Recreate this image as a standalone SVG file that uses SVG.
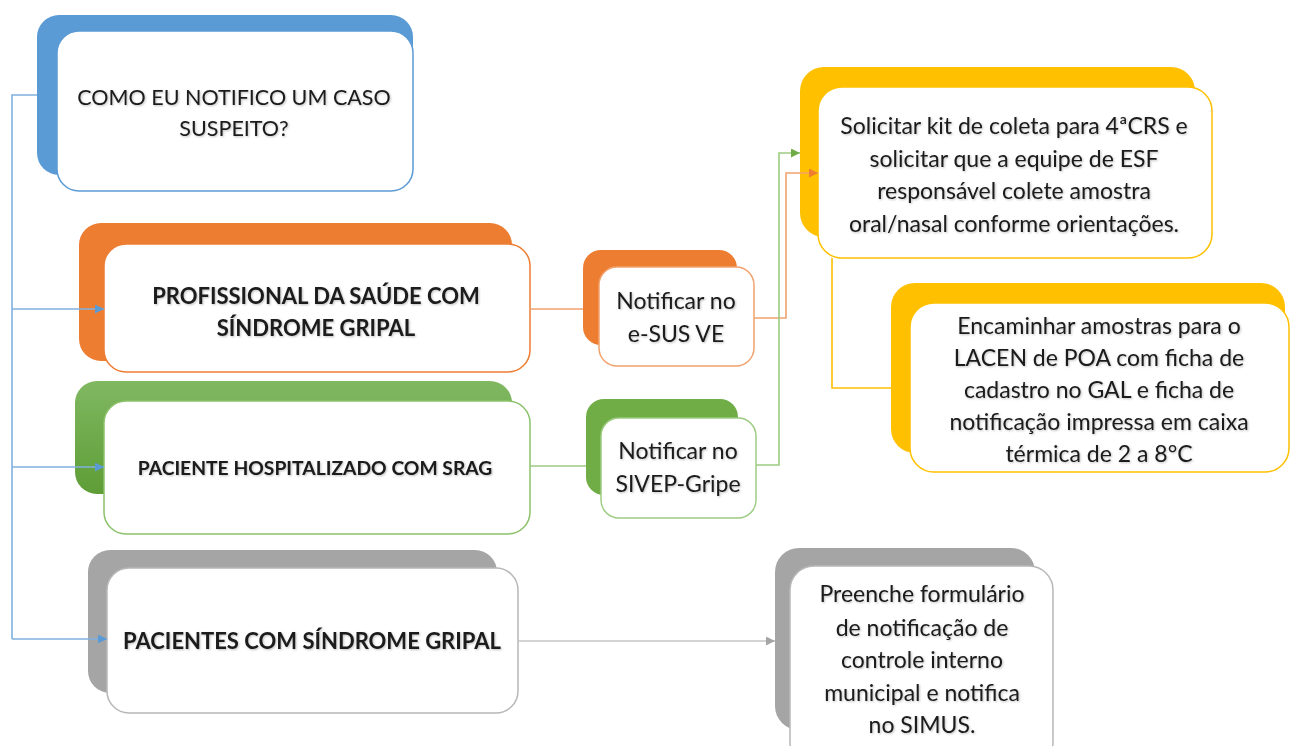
<svg xmlns="http://www.w3.org/2000/svg" width="1293" height="746" viewBox="0 0 1293 746">
<defs>
<linearGradient id="gGreen" x1="0" y1="0" x2="0" y2="1"><stop offset="0" stop-color="#80B862"/><stop offset="1" stop-color="#5E9D36"/></linearGradient>
<filter id="ts" x="-5%" y="-20%" width="110%" height="140%"><feDropShadow dx="1" dy="1" stdDeviation="0.8" flood-color="#000" flood-opacity="0.25"/></filter>
<marker id="aBlue" viewBox="0 0 10 10" refX="10" refY="5" markerWidth="9" markerHeight="9" markerUnits="userSpaceOnUse" orient="auto"><path d="M0,0 L10,5 L0,10 z" fill="#5B9BD5"/></marker>
<marker id="aOrange" viewBox="0 0 10 10" refX="10" refY="5" markerWidth="9" markerHeight="9" markerUnits="userSpaceOnUse" orient="auto"><path d="M0,0 L10,5 L0,10 z" fill="#ED7D31"/></marker>
<marker id="aGreen" viewBox="0 0 10 10" refX="10" refY="5" markerWidth="9" markerHeight="9" markerUnits="userSpaceOnUse" orient="auto"><path d="M0,0 L10,5 L0,10 z" fill="#70AD47"/></marker>
<marker id="aGray" viewBox="0 0 10 10" refX="10" refY="5" markerWidth="9" markerHeight="9" markerUnits="userSpaceOnUse" orient="auto"><path d="M0,0 L10,5 L0,10 z" fill="#A5A5A5"/></marker>
</defs>
<style>
text{font-family:Lato,"Open Sans","Liberation Sans",sans-serif;fill:#1a1a1a;text-anchor:middle;filter:url(#ts)}
.n{font-size:23px}
.cap{font-size:21.5px}
.b{font-size:22px;font-weight:bold}
.front{fill:#fff;stroke-width:1.5}
.c{fill:none;stroke-width:1.6}
</style>
<rect width="1293" height="746" fill="#fff"/>
<g id="n-question">
<rect x="37" y="15" width="376" height="160" rx="22" fill="#5B9BD5"/>
<rect class="front" x="57" y="31" width="356" height="160" rx="22" stroke="#5B9BD5"/>
<text class="cap" x="234" y="105">COMO EU NOTIFICO UM CASO</text>
<text class="cap" x="234" y="136">SUSPEITO?</text>
</g>
<g id="n-profissional">
<rect x="79" y="223" width="433" height="138" rx="22" fill="#ED7D31"/>
<rect class="front" x="104" y="244" width="426" height="128" rx="22" stroke="#ED7D31"/>
<text class="b" x="316" y="304">PROFISSIONAL DA SAÚDE COM</text>
<text class="b" x="316" y="336">SÍNDROME GRIPAL</text>
</g>
<g id="n-hospitalizado">
<rect x="75" y="381" width="437" height="113" rx="22" fill="url(#gGreen)"/>
<rect class="front" x="104" y="401" width="426" height="133" rx="22" stroke="#8CC26C"/>
<text class="b" x="315" y="475" style="font-size:19.3px">PACIENTE HOSPITALIZADO COM SRAG</text>
</g>
<g id="n-pacientes">
<rect x="88" y="550" width="409" height="143" rx="22" fill="#A5A5A5"/>
<rect class="front" x="107" y="568" width="411" height="145" rx="22" stroke="#B8B8B8"/>
<text class="b" x="312" y="649">PACIENTES COM SÍNDROME GRIPAL</text>
</g>
<g id="n-esus">
<rect x="583" y="250" width="154" height="95" rx="18" fill="#ED7D31"/>
<rect class="front" x="599" y="267" width="155" height="99" rx="18" stroke="#F2A26E"/>
<text class="n" x="676" y="309">Notificar no</text>
<text class="n" x="676" y="342">e-SUS VE</text>
</g>
<g id="n-sivep">
<rect x="586" y="399" width="152" height="96" rx="18" fill="#70AD47"/>
<rect class="front" x="601" y="418" width="155" height="100" rx="18" stroke="#9CCB80"/>
<text class="n" x="678" y="459">Notificar no</text>
<text class="n" x="678" y="492">SIVEP-Gripe</text>
</g>
<g id="n-kit">
<rect x="800" y="67" width="395" height="170" rx="24" fill="#FFC000"/>
<rect class="front" x="818" y="87" width="394" height="171" rx="24" stroke="#FFC000"/>
<text class="n" x="1014" y="134">Solicitar kit de coleta para 4ªCRS e</text>
<text class="n" x="1014" y="167">solicitar que a equipe de ESF</text>
<text class="n" x="1014" y="199">responsável colete amostra</text>
<text class="n" x="1014" y="232">oral/nasal conforme orientações.</text>
</g>
<g id="n-lacen">
<rect x="891" y="283" width="394" height="170" rx="24" fill="#FFC000"/>
<rect class="front" x="910" y="303" width="379" height="169" rx="24" stroke="#FFC000"/>
<text class="n" x="1099" y="334">Encaminhar amostras para o</text>
<text class="n" x="1099" y="366">LACEN de POA com ficha de</text>
<text class="n" x="1099" y="398">cadastro no GAL e ficha de</text>
<text class="n" x="1099" y="430">notificação impressa em caixa</text>
<text class="n" x="1099" y="462">térmica de 2 a 8°C</text>
</g>
<g id="n-simus">
<rect x="775" y="548" width="260" height="182" rx="24" fill="#A5A5A5"/>
<rect class="front" x="790" y="566" width="263" height="200" rx="24" stroke="#B8B8B8"/>
<text class="n" x="922" y="602">Preenche formulário</text>
<text class="n" x="922" y="636">de notificação de</text>
<text class="n" x="922" y="668">controle interno</text>
<text class="n" x="922" y="701">municipal e notifica</text>
<text class="n" x="922" y="733">no SIMUS.</text>
</g>
<g id="connectors">
<path class="c" stroke="#7FB0E0" d="M37,95 H12 V639"/>
<path class="c" stroke="#7FB0E0" d="M12,309 H104" marker-end="url(#aBlue)"/>
<path class="c" stroke="#7FB0E0" d="M12,467 H104" marker-end="url(#aBlue)"/>
<path class="c" stroke="#7FB0E0" d="M12,639 H107" marker-end="url(#aBlue)"/>
<path class="c" stroke="#F2A26E" d="M530,309 H583"/>
<path class="c" stroke="#F2A26E" d="M754,318 H786 V173 H818" marker-end="url(#aOrange)"/>
<path class="c" stroke="#9CCB80" d="M530,466 H586"/>
<path class="c" stroke="#9CCB80" d="M756,465 H779 V153 H800" marker-end="url(#aGreen)"/>
<path class="c" stroke="#FFC000" d="M832,258 V388 H891"/>
<path class="c" stroke="#C4C4C4" d="M518,641 H775" marker-end="url(#aGray)"/>
</g>
</svg>
